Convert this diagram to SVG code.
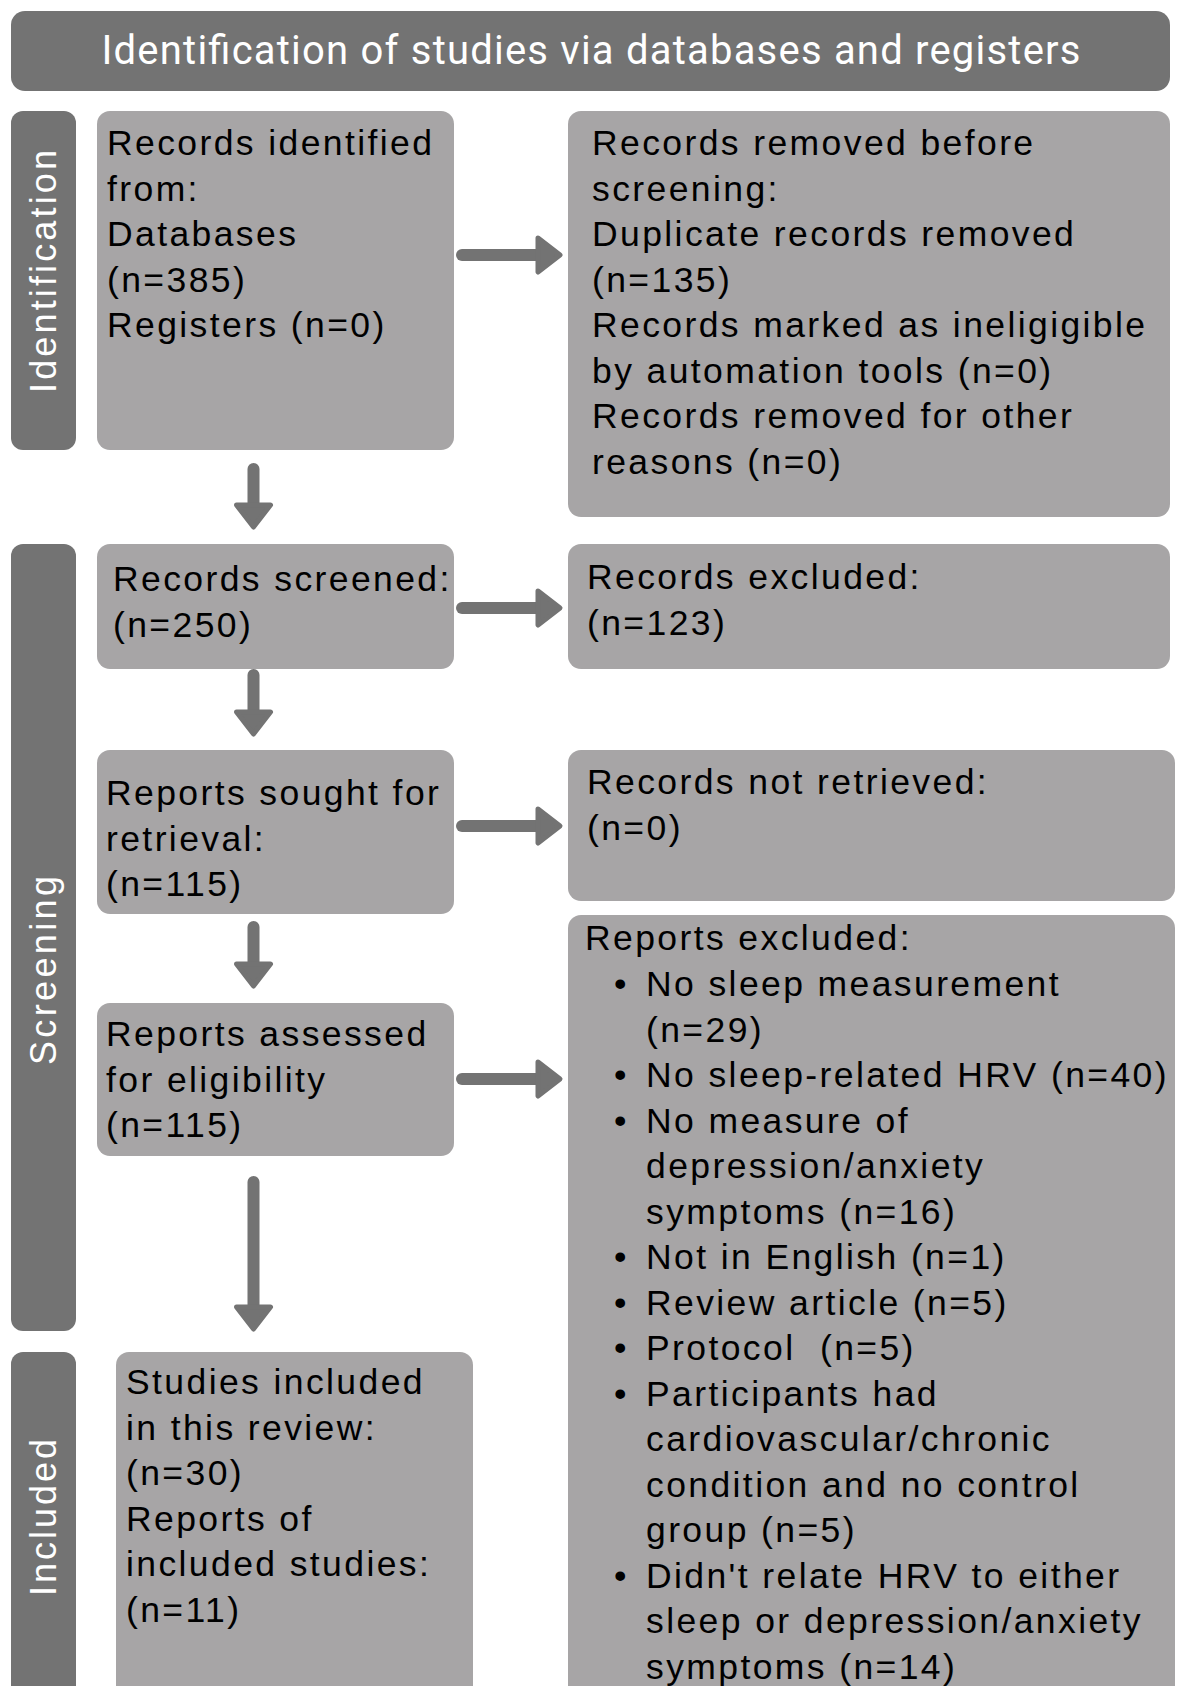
<svg xmlns="http://www.w3.org/2000/svg" width="1184" height="1686" viewBox="0 0 1184 1686">
<style>
.dark{fill:#737373}
.box{fill:#a7a5a6}
.t{font-family:"Liberation Sans",Arial,sans-serif;font-size:35.5px;letter-spacing:2.4px;fill:#000}
.band{font-family:"Liberation Sans",Arial,sans-serif;font-size:36px;fill:#fff;text-anchor:middle}
.title{font-family:Roboto,"Liberation Sans",sans-serif;font-size:40px;fill:#fff;text-anchor:middle}
.shaft{stroke:#737373;stroke-width:12;stroke-linecap:round;fill:none}
.head{fill:#737373;stroke:#737373;stroke-width:5;stroke-linejoin:round}
</style>
<rect width="1184" height="1686" fill="#fff"/>
<g id="title">
<rect class="dark" x="11" y="11" width="1159" height="80" rx="14"/>
<text class="title" x="591" y="64" textLength="979" lengthAdjust="spacing">Identification of studies via databases and registers</text>
</g>
<g id="band-identification">
<rect class="dark" x="11" y="111" width="65" height="339" rx="12"/>
<text class="band" transform="translate(56,271.5) rotate(-90)" textLength="243" lengthAdjust="spacing">Identification</text>
</g>
<g id="band-screening">
<rect class="dark" x="11" y="544" width="65" height="787" rx="12"/>
<text class="band" transform="translate(56,970.5) rotate(-90)" textLength="189" lengthAdjust="spacing">Screening</text>
</g>
<g id="band-included">
<rect class="dark" x="11" y="1352" width="65" height="360" rx="12"/>
<text class="band" transform="translate(56,1517.5) rotate(-90)" textLength="157" lengthAdjust="spacing">Included</text>
</g>
<g id="records-identified">
<rect class="box" x="97" y="111" width="357" height="339" rx="13"/>
<text class="t"><tspan x="107" y="155">Records identified</tspan><tspan x="107" y="200.5">from:</tspan><tspan x="107" y="246">Databases</tspan><tspan x="107" y="291.5">(n=385)</tspan><tspan x="107" y="337">Registers (n=0)</tspan></text>
</g>
<g id="records-removed">
<rect class="box" x="568" y="111" width="602" height="406" rx="13"/>
<text class="t"><tspan x="592" y="155">Records removed before</tspan><tspan x="592" y="200.5">screening:</tspan><tspan x="592" y="246">Duplicate records removed</tspan><tspan x="592" y="291.5">(n=135)</tspan><tspan x="592" y="337">Records marked as ineligigible</tspan><tspan x="592" y="382.5">by automation tools (n=0)</tspan><tspan x="592" y="428">Records removed for other</tspan><tspan x="592" y="473.5">reasons (n=0)</tspan></text>
</g>
<g id="records-screened">
<rect class="box" x="97" y="544" width="357" height="125" rx="13"/>
<text class="t"><tspan x="113" y="591">Records screened:</tspan><tspan x="113" y="636.5">(n=250)</tspan></text>
</g>
<g id="records-excluded">
<rect class="box" x="568" y="544" width="602" height="125" rx="13"/>
<text class="t"><tspan x="587" y="589">Records excluded:</tspan><tspan x="587" y="634.5">(n=123)</tspan></text>
</g>
<g id="reports-sought">
<rect class="box" x="97" y="750" width="357" height="164" rx="13"/>
<text class="t"><tspan x="106" y="805">Reports sought for</tspan><tspan x="106" y="850.5">retrieval:</tspan><tspan x="106" y="896">(n=115)</tspan></text>
</g>
<g id="records-not-retrieved">
<rect class="box" x="568" y="750" width="607" height="151" rx="13"/>
<text class="t"><tspan x="587" y="794">Records not retrieved:</tspan><tspan x="587" y="839.5">(n=0)</tspan></text>
</g>
<g id="reports-assessed">
<rect class="box" x="97" y="1003" width="357" height="153" rx="13"/>
<text class="t"><tspan x="106" y="1046">Reports assessed</tspan><tspan x="106" y="1091.5">for eligibility</tspan><tspan x="106" y="1137">(n=115)</tspan></text>
</g>
<g id="reports-excluded">
<rect class="box" x="568" y="915" width="607" height="800" rx="13"/>
<text class="t" xml:space="preserve"><tspan x="585" y="950">Reports excluded:</tspan><tspan x="614" y="996">•</tspan><tspan x="646" y="996">No sleep measurement</tspan><tspan x="646" y="1041.5">(n=29)</tspan><tspan x="614" y="1087">•</tspan><tspan x="646" y="1087">No sleep-related HRV (n=40)</tspan><tspan x="614" y="1132.5">•</tspan><tspan x="646" y="1132.5">No measure of</tspan><tspan x="646" y="1178">depression/anxiety</tspan><tspan x="646" y="1223.5">symptoms (n=16)</tspan><tspan x="614" y="1269">•</tspan><tspan x="646" y="1269">Not in English (n=1)</tspan><tspan x="614" y="1314.5">•</tspan><tspan x="646" y="1314.5">Review article (n=5)</tspan><tspan x="614" y="1360">•</tspan><tspan x="646" y="1360">Protocol  (n=5)</tspan><tspan x="614" y="1405.5">•</tspan><tspan x="646" y="1405.5">Participants had</tspan><tspan x="646" y="1451">cardiovascular/chronic</tspan><tspan x="646" y="1496.5">condition and no control</tspan><tspan x="646" y="1542">group (n=5)</tspan><tspan x="614" y="1587.5">•</tspan><tspan x="646" y="1587.5">Didn't relate HRV to either</tspan><tspan x="646" y="1633">sleep or depression/anxiety</tspan><tspan x="646" y="1678.5">symptoms (n=14)</tspan></text>
</g>
<g id="studies-included">
<rect class="box" x="116" y="1352" width="357" height="360" rx="13"/>
<text class="t"><tspan x="126" y="1394">Studies included</tspan><tspan x="126" y="1439.5">in this review:</tspan><tspan x="126" y="1485">(n=30)</tspan><tspan x="126" y="1530.5">Reports of</tspan><tspan x="126" y="1576">included studies:</tspan><tspan x="126" y="1621.5">(n=11)</tspan></text>
</g>
<g id="connectors">
<line class="shaft" x1="462" y1="255" x2="540" y2="255"/>
<polygon class="head" points="538,238 560,255 538,272"/>
<line class="shaft" x1="462" y1="608" x2="540" y2="608"/>
<polygon class="head" points="538,591 560,608 538,625"/>
<line class="shaft" x1="462" y1="826" x2="540" y2="826"/>
<polygon class="head" points="538,809 560,826 538,843"/>
<line class="shaft" x1="462" y1="1079" x2="540" y2="1079"/>
<polygon class="head" points="538,1062 560,1079 538,1096"/>
<line class="shaft" x1="253.5" y1="469" x2="253.5" y2="507"/>
<polygon class="head" points="236.5,505 253.5,527 270.5,505"/>
<line class="shaft" x1="253.5" y1="675" x2="253.5" y2="714"/>
<polygon class="head" points="236.5,712 253.5,734 270.5,712"/>
<line class="shaft" x1="253.5" y1="927" x2="253.5" y2="966"/>
<polygon class="head" points="236.5,964 253.5,986 270.5,964"/>
<line class="shaft" x1="253.5" y1="1182" x2="253.5" y2="1309"/>
<polygon class="head" points="236.5,1307 253.5,1329 270.5,1307"/>
</g>
</svg>
